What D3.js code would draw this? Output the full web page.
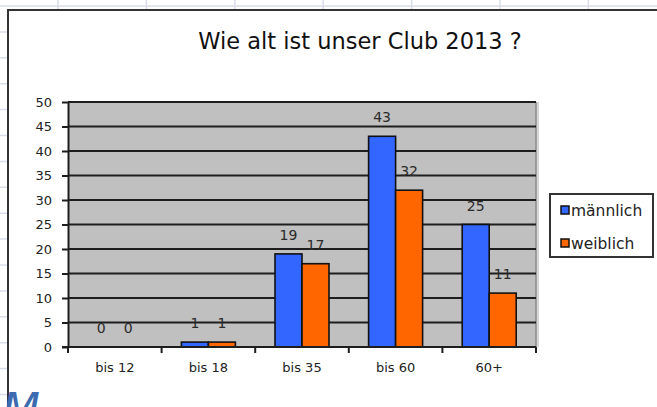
<!doctype html>
<html lang="de">
<head>
  <meta charset="UTF-8" />
  <script src="https://cdn.jsdelivr.net/npm/d3@7"></script>
  <style>
    body { margin: 0; background: #fff; overflow: hidden; }
    text { font-family: "DejaVu Sans", sans-serif; fill: #1a1a1a; }
    .sheet line { stroke: #d9dde9; stroke-width: 1.5; }
    .grid line { stroke: #1e1e1e; stroke-width: 2; }
    .bar { stroke: #111; stroke-width: 1.6; }
    .axis path, .axis line { stroke: #1e1e1e; stroke-width: 2; }
  </style>
  <title>Wie alt ist unser Club 2013 ?</title>
</head>
<body>
<script>
  var categories = ["bis 12", "bis 18", "bis 35", "bis 60", "60+"];
  var series = ["männlich", "weiblich"];
  var maennlich = [0, 1, 19, 43, 25];
  var weiblich = [0, 1, 17, 32, 11];
  var yTicks = [0, 5, 10, 15, 20, 25, 30, 35, 40, 45, 50];
  var colors = ["#3366ff", "#ff6600"];

  var values = [maennlich, weiblich];
  var rows = categories.map(function (c, i) {
    return { cat: c, vals: series.map(function (s, j) { return { s: s, v: values[j][i], k: j }; }) };
  });

  var W = 657, H = 407;
  var svg = d3.select("body").append("svg").attr("width", W).attr("height", H);

  // spreadsheet cells behind the chart
  var sheet = svg.append("g").attr("class", "sheet");
  sheet.selectAll(".v").data(d3.range(58, W, 88.4)).enter().append("line")
    .attr("x1", function (d) { return d; }).attr("x2", function (d) { return d; })
    .attr("y1", 0).attr("y2", H);
  sheet.selectAll(".h").data(d3.range(6, H, 25.9)).enter().append("line")
    .attr("x1", 0).attr("x2", W)
    .attr("y1", function (d) { return d; }).attr("y2", function (d) { return d; });

  // chart frame
  svg.append("rect").attr("x", 8).attr("y", 10).attr("width", 720).attr("height", 450)
    .attr("fill", "#fff").attr("stroke", "#333").attr("stroke-width", 2);

  svg.append("text").attr("x", 360).attr("y", 49).attr("text-anchor", "middle")
    .style("font-size", "22.5px").style("fill", "#111")
    .text("Wie alt ist unser Club 2013 ?");

  var pLeft = 68, pRight = 536, pTop = 102, pBottom = 347;

  var x0 = d3.scaleBand().domain(categories).range([pLeft, pRight])
    .paddingInner(0.4231).paddingOuter(0.2115);
  var x1 = d3.scaleBand().domain(series).range([0, x0.bandwidth()]);
  var y = d3.scaleLinear().domain([0, 50]).range([pBottom, pTop]);

  // plot background + shadow
  svg.append("rect").attr("x", pRight).attr("y", pTop).attr("width", 3).attr("height", pBottom - pTop)
    .attr("fill", "#d6d6d6");
  svg.append("rect").attr("x", pLeft).attr("y", pTop).attr("width", pRight - pLeft).attr("height", pBottom - pTop)
    .attr("fill", "#c0c0c0");
  svg.append("line").attr("x1", pRight).attr("x2", pRight).attr("y1", pTop).attr("y2", pBottom)
    .attr("stroke", "#8c8c8c").attr("stroke-width", 1.5);

  // gridlines
  svg.append("g").attr("class", "grid").selectAll("line").data(yTicks.slice(1)).enter().append("line")
    .attr("x1", pLeft).attr("x2", pRight)
    .attr("y1", function (d) { return y(d); }).attr("y2", function (d) { return y(d); });

  // bars
  var groups = svg.append("g").selectAll("g").data(rows).enter().append("g")
    .attr("transform", function (d) { return "translate(" + x0(d.cat) + ",0)"; });
  groups.selectAll("rect").data(function (d) { return d.vals; }).enter().append("rect")
    .attr("class", "bar")
    .attr("x", function (d) { return x1(d.s); })
    .attr("y", function (d) { return y(d.v); })
    .attr("width", x1.bandwidth())
    .attr("height", function (d) { return pBottom - y(d.v); })
    .attr("fill", function (d) { return colors[d.k]; });
  groups.selectAll("text").data(function (d) { return d.vals; }).enter().append("text")
    .attr("x", function (d) { return x1(d.s) + x1.bandwidth() / 2; })
    .attr("y", function (d) { return y(d.v) - 14; })
    .attr("text-anchor", "middle")
    .style("font-size", "14px").style("fill", "#2a2a2a")
    .text(function (d) { return d.v; });

  // y axis
  var yAxis = svg.append("g").attr("class", "axis").attr("transform", "translate(" + pLeft + ",0)")
    .call(d3.axisLeft(y).tickValues(yTicks).tickSize(6).tickSizeOuter(0).tickPadding(10));
  yAxis.selectAll("text").style("font-size", "13px").style("fill", "#222");

  // x axis, ticks at category boundaries
  var step = x0.step();
  var bounds = d3.range(categories.length + 1).map(function (i) { return pLeft + i * step; });
  var xg = svg.append("g").attr("class", "axis");
  xg.append("line").attr("x1", pLeft - 6).attr("x2", pRight).attr("y1", pBottom).attr("y2", pBottom);
  xg.selectAll(".tk").data(bounds).enter().append("line")
    .attr("x1", function (d) { return d; }).attr("x2", function (d) { return d; })
    .attr("y1", pBottom).attr("y2", pBottom + 6);
  xg.selectAll("text").data(categories).enter().append("text")
    .attr("x", function (d) { return x0(d) + x0.bandwidth() / 2; })
    .attr("y", pBottom + 25).attr("text-anchor", "middle")
    .style("font-size", "13px").style("fill", "#222")
    .text(function (d) { return d; });

  // legend
  var lg = svg.append("g");
  lg.append("rect").attr("x", 550).attr("y", 194).attr("width", 103).attr("height", 63)
    .attr("fill", "#fff").attr("stroke", "#333").attr("stroke-width", 2);
  var items = lg.selectAll("g").data(series).enter().append("g")
    .attr("transform", function (d, i) { return "translate(561," + (206 + i * 33) + ")"; });
  items.append("rect").attr("width", 8).attr("height", 8)
    .attr("fill", function (d, i) { return colors[i]; })
    .attr("stroke", "#111").attr("stroke-width", 1.5);
  items.append("text").attr("x", 10).attr("y", 10)
    .style("font-size", "15.5px").style("fill", "#222")
    .text(function (d) { return d; });

  // stray cell text at bottom left
  svg.append("text").attr("x", 2).attr("y", 425)
    .style("font-size", "44px").style("font-style", "italic").style("fill", "#3d6bb0")
    .text("M");
</script>
</body>
</html>
